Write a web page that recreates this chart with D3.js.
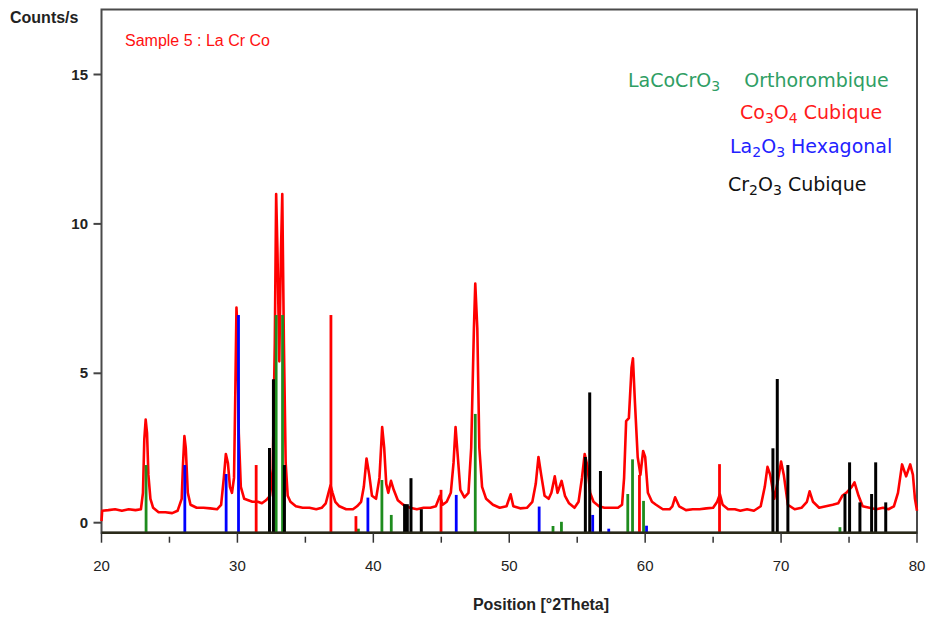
<!DOCTYPE html>
<html>
<head>
<meta charset="utf-8">
<script src="https://cdn.jsdelivr.net/npm/d3@7"></script>
<style>
	body { margin: 0; background: #fff; }
	svg { display: block; }
</style>
</head>
<body>
<svg width="927" height="619"></svg>
<script>
var xTicks = [20, 30, 40, 50, 60, 70, 80];
var xMinorTicks = [25, 35, 45, 55, 65, 75];
var yTicks = [0, 5, 10, 15];

// measured scan, [2theta, counts/s]
var scan = [
	[20.0, 0.05], [20.05, 0.4], [20.5, 0.42], [21, 0.45], [21.5, 0.4], [22, 0.45], [22.5, 0.42], [22.9, 0.45],
	[23.05, 1.0], [23.15, 2.8], [23.25, 3.45], [23.35, 3.0], [23.45, 1.6], [23.6, 0.8], [23.8, 0.5],
	[24.2, 0.35], [24.7, 0.35], [25.2, 0.32], [25.6, 0.4], [25.9, 0.8], [26.0, 2.0], [26.1, 2.9], [26.2, 2.5],
	[26.35, 1.0], [26.55, 0.6], [27, 0.5], [27.5, 0.5], [28, 0.48], [28.5, 0.45], [28.8, 0.6], [29.0, 1.5],
	[29.15, 2.3], [29.3, 2.0], [29.45, 1.2], [29.6, 1.0], [29.75, 1.5], [29.85, 4.5], [29.93, 7.2], [30.0, 6.5],
	[30.1, 3.0], [30.25, 1.2], [30.5, 0.8], [30.8, 0.75], [31.1, 0.7], [31.5, 0.7], [31.8, 0.65], [32.1, 0.75],
	[32.4, 0.9], [32.6, 1.8], [32.75, 6.0], [32.85, 11.0], [32.95, 9.0], [33.08, 5.4], [33.2, 9.0], [33.3, 11.0],
	[33.42, 6.0], [33.55, 2.0], [33.7, 0.9], [33.9, 0.7], [34.3, 0.55], [34.8, 0.5], [35.3, 0.5], [35.8, 0.45],
	[36.2, 0.5], [36.5, 0.65], [36.7, 1.0], [36.85, 1.25], [37.0, 1.0], [37.2, 0.7], [37.5, 0.55], [38, 0.45],
	[38.5, 0.45], [38.8, 0.55], [39.1, 0.7], [39.3, 1.2], [39.5, 2.15], [39.7, 1.6], [39.9, 0.9], [40.2, 0.8],
	[40.45, 1.5], [40.65, 3.2], [40.8, 2.5], [40.95, 1.3], [41.1, 1.0], [41.3, 1.4], [41.5, 1.1], [41.8, 0.75],
	[42.2, 0.6], [42.7, 0.5], [43.2, 0.45], [43.7, 0.5], [44.2, 0.5], [44.6, 0.55], [44.9, 0.9], [45.1, 0.6],
	[45.4, 0.7], [45.7, 1.0], [45.9, 2.0], [46.05, 3.2], [46.2, 2.3], [46.4, 1.1], [46.7, 0.85], [47.0, 1.0],
	[47.2, 2.5], [47.4, 6.5], [47.5, 8.0], [47.65, 6.5], [47.8, 2.5], [48.0, 1.2], [48.3, 0.8], [48.8, 0.6],
	[49.3, 0.5], [49.8, 0.55], [50.1, 0.95], [50.3, 0.55], [50.8, 0.48], [51.3, 0.5], [51.7, 0.7], [51.95, 1.3],
	[52.15, 2.2], [52.35, 1.6], [52.6, 0.9], [52.9, 0.8], [53.1, 1.0], [53.35, 1.55], [53.55, 1.0], [53.85, 1.4],
	[54.1, 0.9], [54.4, 0.65], [54.8, 0.5], [55.1, 0.7], [55.35, 1.5], [55.55, 2.3], [55.75, 1.9], [55.95, 1.0],
	[56.2, 0.7], [56.6, 0.55], [57, 0.5], [57.5, 0.5], [58, 0.5], [58.3, 0.6], [58.45, 1.5], [58.6, 3.4],
	[58.8, 3.5], [59.0, 5.2], [59.1, 5.5], [59.25, 4.0], [59.45, 2.2], [59.65, 1.6], [59.85, 2.4], [60.0, 2.2],
	[60.2, 1.0], [60.5, 0.7], [60.8, 0.6], [61.3, 0.45], [61.8, 0.45], [62.0, 0.55], [62.2, 0.85], [62.5, 0.55],
	[63, 0.42], [63.5, 0.45], [64, 0.45], [64.5, 0.48], [65, 0.5], [65.3, 0.7], [65.5, 0.95], [65.7, 0.6],
	[66.1, 0.45], [66.6, 0.45], [67, 0.4], [67.5, 0.45], [68, 0.4], [68.5, 0.55], [68.8, 1.2], [69.0, 1.87],
	[69.2, 1.6], [69.5, 0.8], [69.8, 1.5], [70.0, 2.05], [70.2, 1.6], [70.5, 0.6], [71.0, 0.45], [71.5, 0.5],
	[71.9, 0.7], [72.1, 1.05], [72.35, 0.7], [72.8, 0.5], [73.3, 0.55], [73.8, 0.6], [74.2, 0.65], [74.5, 0.9],
	[74.8, 1.0], [75.2, 1.2], [75.4, 1.35], [75.7, 0.9], [76.0, 0.55], [76.5, 0.5], [77, 0.45], [77.5, 0.5],
	[77.9, 0.45], [78.3, 0.55], [78.6, 1.0], [78.9, 1.95], [79.2, 1.55], [79.5, 1.95], [79.7, 1.6], [79.85, 0.8],
	[80, 0.4]
];

// reference patterns, [2theta, top of stick]
var laCoCrO3 = [[23.28, 1.93], [32.85, 6.95], [33.32, 6.95], [38.9, -0.2], [40.63, 1.43], [41.32, 0.26],
	[47.5, 3.64], [53.22, -0.11], [53.84, 0.03], [58.72, 0.96], [59.07, 2.12], [59.88, 0.73], [74.33, -0.15]];
var co3o4 = [[31.38, 1.93], [36.88, 6.95], [38.72, 0.22], [44.98, 1.1], [59.58, 1.6], [65.47, 1.96]];
var la2o3 = [[26.13, 1.93], [29.17, 1.63], [30.08, 6.95], [39.6, 0.84], [46.1, 0.93], [52.2, 0.54],
	[56.14, 0.26], [57.32, -0.2], [60.1, -0.1]];
var cr2o3 = [[32.36, 2.5], [32.65, 4.8], [33.46, 1.93], [42.3, 0.62], [42.5, 0.62], [42.77, 1.49], [43.53, 0.45],
	[55.6, 2.2], [55.92, 4.36], [56.71, 1.73], [69.4, 2.49], [69.72, 4.81], [70.5, 1.93], [74.7, 0.96],
	[75.04, 2.02], [75.8, 0.68], [76.66, 0.96], [76.96, 2.02], [77.7, 0.68]];

var phases = [
	{ data: laCoCrO3, color: "#1e8c1e" },
	{ data: co3o4, color: "#ff0000" },
	{ data: la2o3, color: "#0000ff" },
	{ data: cr2o3, color: "#000000" }
];

var svg = d3.select("svg");
var plotLeft = 101.5, plotRight = 917, plotTop = 9.5, plotBottom = 532.7;

var x = d3.scaleLinear().domain([20, 80]).range([plotLeft, plotRight]);
var y = d3.scaleLinear().domain([0, 15]).range([522.7, 74.5]);
var yBottom = y.invert(plotBottom);

// frame
svg.append("rect")
	.attr("x", plotLeft).attr("y", plotTop)
	.attr("width", plotRight - plotLeft).attr("height", plotBottom - plotTop)
	.attr("fill", "none")
	.attr("stroke", "#4a4a4a")
	.attr("stroke-width", 2);

// measured pattern
var line = d3.line()
	.x(function(d) { return x(d[0]); })
	.y(function(d) { return y(d[1]); });

svg.append("path")
	.datum(scan)
	.attr("d", line)
	.attr("fill", "none")
	.attr("stroke", "#ff0000")
	.attr("stroke-width", 2.6)
	.attr("stroke-linejoin", "round");

// reference sticks
phases.forEach(function(p) {
	svg.append("g")
		.selectAll("line")
		.data(p.data)
		.enter().append("line")
		.attr("x1", function(d) { return x(d[0]); })
		.attr("x2", function(d) { return x(d[0]); })
		.attr("y1", y(yBottom))
		.attr("y2", function(d) { return y(d[1]); })
		.attr("stroke", p.color)
		.attr("stroke-width", p.color == "#000000" ? 3 : 2.8);
});

// bottom axis line
svg.append("line")
	.attr("x1", plotLeft).attr("x2", plotRight)
	.attr("y1", plotBottom).attr("y2", plotBottom)
	.attr("stroke", "#2a2a1a")
	.attr("stroke-width", 2.5);

// x ticks
svg.append("g").selectAll("line")
	.data(xTicks)
	.enter().append("line")
	.attr("x1", x).attr("x2", x)
	.attr("y1", plotBottom).attr("y2", plotBottom + 10)
	.attr("stroke", "#333").attr("stroke-width", 1.5);

svg.append("g").selectAll("line")
	.data(xMinorTicks)
	.enter().append("line")
	.attr("x1", x).attr("x2", x)
	.attr("y1", plotBottom + 4).attr("y2", plotBottom + 10)
	.attr("stroke", "#333").attr("stroke-width", 1.5);

svg.append("g").selectAll("text")
	.data(xTicks)
	.enter().append("text")
	.attr("x", x)
	.attr("y", 571)
	.attr("text-anchor", "middle")
	.attr("font-family", "Liberation Sans, Arial, sans-serif")
	.attr("font-size", 15)
	.attr("fill", "#222")
	.text(function(d) { return d; });

// y ticks
svg.append("g").selectAll("line")
	.data(yTicks)
	.enter().append("line")
	.attr("x1", plotLeft - 8).attr("x2", plotLeft)
	.attr("y1", y).attr("y2", y)
	.attr("stroke", "#444").attr("stroke-width", 2);

svg.append("g").selectAll("text")
	.data(yTicks)
	.enter().append("text")
	.attr("x", 88)
	.attr("y", function(d) { return y(d) + 5; })
	.attr("text-anchor", "end")
	.attr("font-family", "Liberation Sans, Arial, sans-serif")
	.attr("font-weight", "bold")
	.attr("font-size", 15)
	.attr("fill", "#222")
	.text(function(d) { return d; });

svg.append("text")
	.attr("x", 10).attr("y", 23)
	.attr("font-family", "Liberation Sans, Arial, sans-serif")
	.attr("font-weight", "bold")
	.attr("font-size", 16)
	.attr("fill", "#222")
	.text("Counts/s");

svg.append("text")
	.attr("x", 541).attr("y", 610)
	.attr("text-anchor", "middle")
	.attr("font-family", "Liberation Sans, Arial, sans-serif")
	.attr("font-weight", "bold")
	.attr("font-size", 16)
	.attr("fill", "#222")
	.text("Position [°2Theta]");

svg.append("text")
	.attr("x", 125).attr("y", 46)
	.attr("font-family", "Liberation Sans, Arial, sans-serif")
	.attr("font-size", 16)
	.attr("fill", "#ff1010")
	.text("Sample 5 : La Cr Co");

// legend: each entry as pieces of [text, isSubscript]
var legend = [
	{ x: 628, y: 87, color: "#2f9e64", parts: [["LaCoCrO", 0], ["3", 1], ["    Orthorombique", 0]] },
	{ x: 740, y: 119, color: "#ff1a1a", parts: [["Co", 0], ["3", 1], ["O", 0], ["4", 1], [" Cubique", 0]] },
	{ x: 730, y: 153, color: "#2222ff", parts: [["La", 0], ["2", 1], ["O", 0], ["3", 1], [" Hexagonal", 0]] },
	{ x: 728, y: 191, color: "#111111", parts: [["Cr", 0], ["2", 1], ["O", 0], ["3", 1], [" Cubique", 0]] }
];

legend.forEach(function(l) {
	var t = svg.append("text")
		.attr("x", l.x).attr("y", l.y)
		.attr("font-family", "DejaVu Sans, sans-serif")
		.attr("font-size", 19)
		.attr("fill", l.color)
		.style("white-space", "pre");
	var shift = 0;
	l.parts.forEach(function(p) {
		var target = p[1] ? 4 : 0;
		t.append("tspan")
			.attr("font-size", p[1] ? 14 : 19)
			.attr("dy", target - shift)
			.text(p[0]);
		shift = target;
	});
});
</script>
</body>
</html>
